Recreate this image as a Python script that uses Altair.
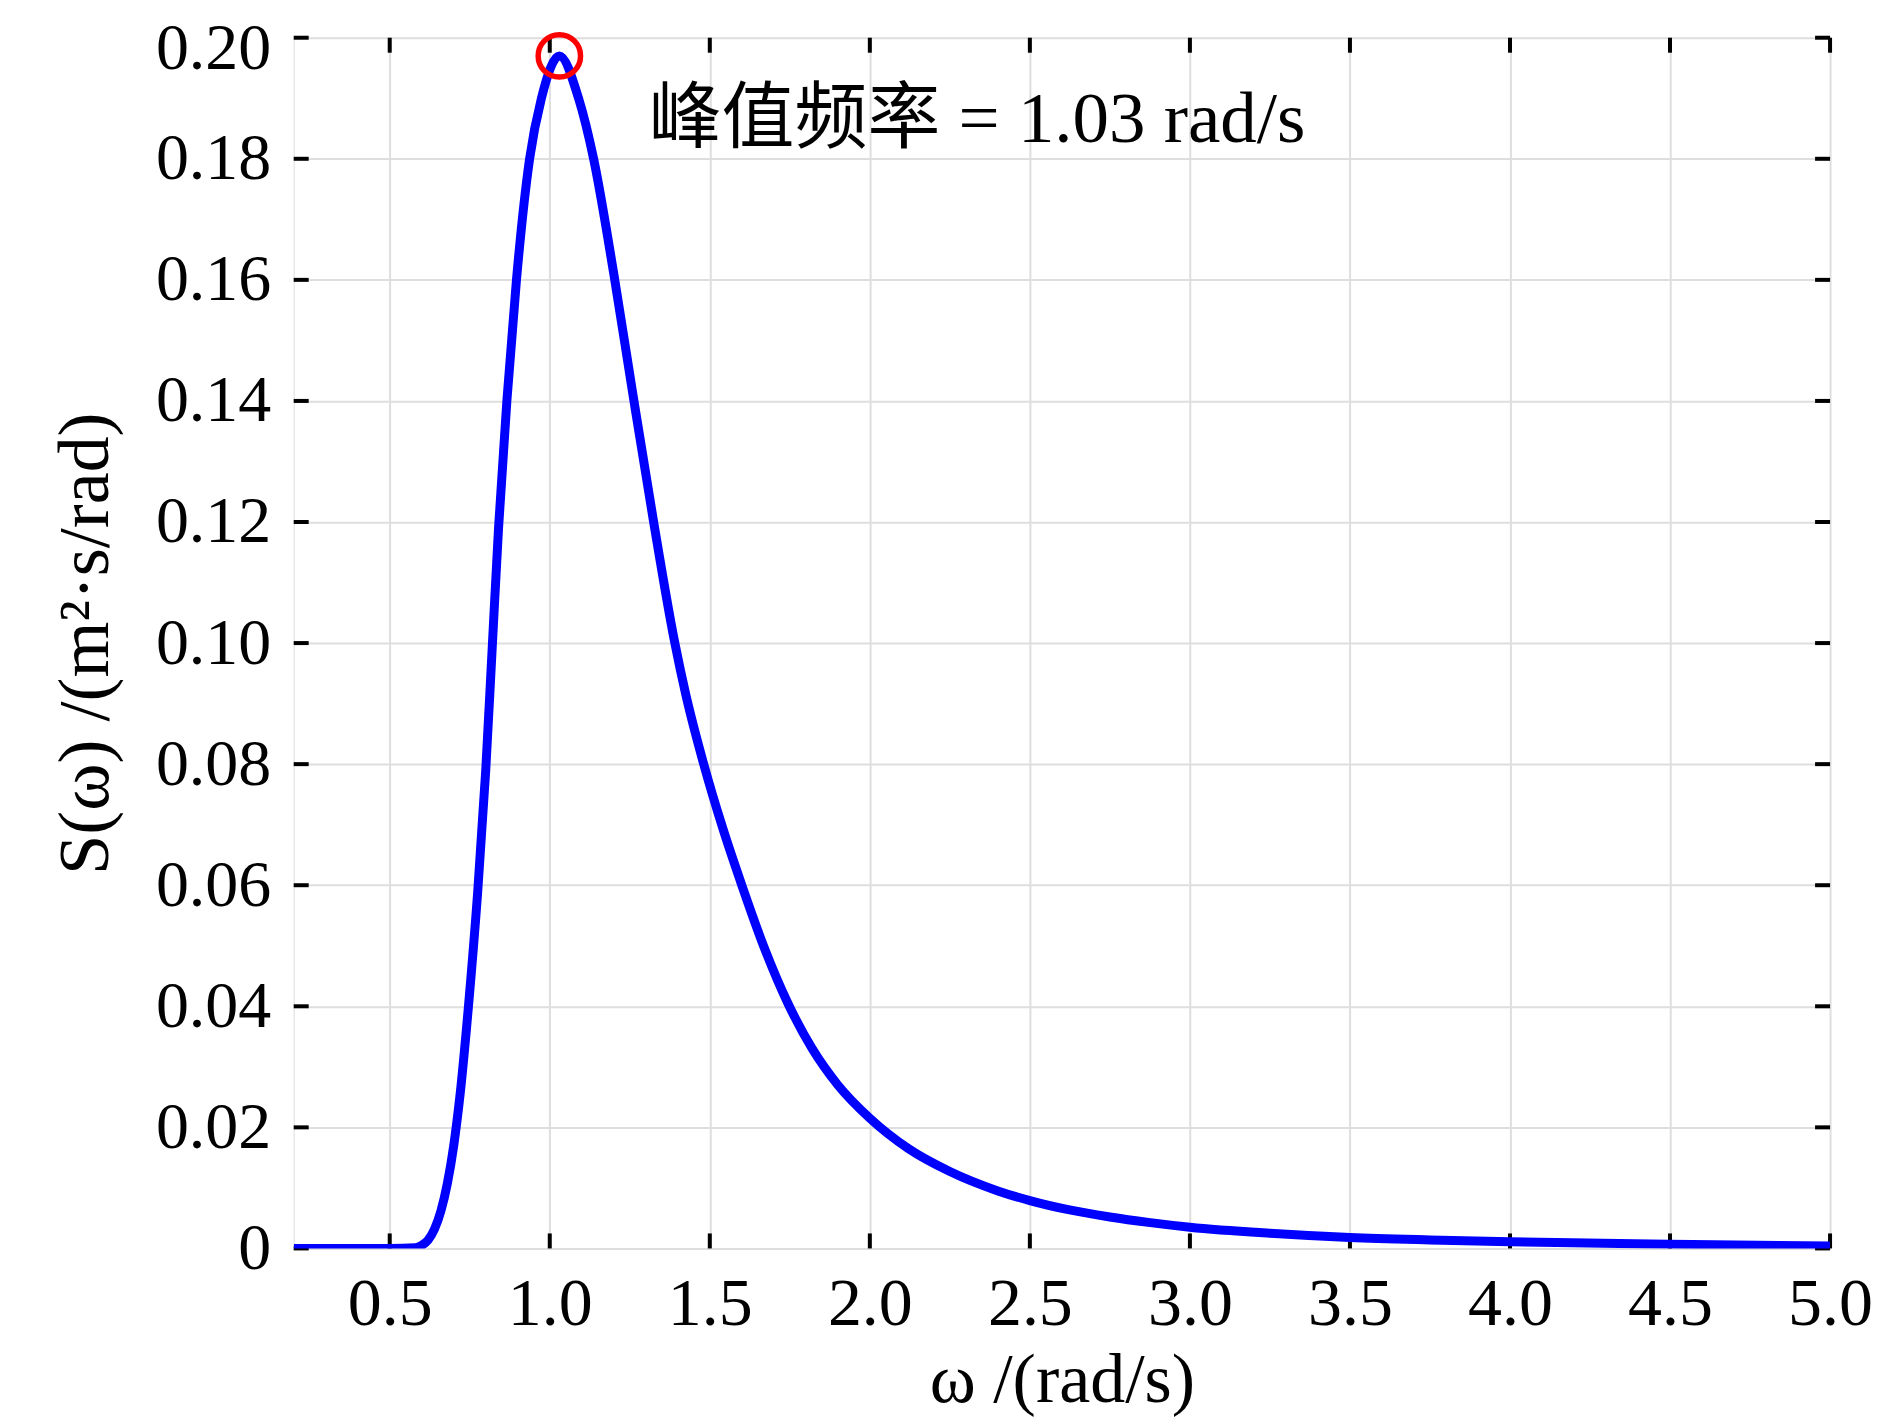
import altair as alt
import pandas as pd

# ---- data ----
omega = [0.20, 0.50, 0.58, 0.60, 0.62, 0.64, 0.66, 0.68, 0.70, 0.72, 0.746,
         0.775, 0.80, 0.82, 0.84, 0.866, 0.896, 0.937, 0.974, 1.03, 1.09,
         1.137, 1.20, 1.26, 1.323, 1.389, 1.425, 1.481, 1.54, 1.60, 1.67,
         1.744, 1.82, 1.90, 2.00, 2.12, 2.25, 2.40, 2.50, 2.62, 2.75, 2.87,
         3.00, 3.25, 3.50, 3.75, 4.00, 4.50, 5.00]
spectrum = [0, 0, 0.0001, 0.0005, 0.0014, 0.0032, 0.0062, 0.0107, 0.0170,
            0.0255, 0.040, 0.059, 0.079, 0.099, 0.119, 0.140, 0.160, 0.180,
            0.190, 0.197, 0.190, 0.180, 0.161, 0.141, 0.1205, 0.1005, 0.0915,
            0.080, 0.0695, 0.060, 0.0497, 0.0405, 0.033, 0.027, 0.0215, 0.0165,
            0.0127, 0.0095, 0.0079, 0.0064, 0.0052, 0.0043, 0.0035, 0.0025,
            0.0018, 0.0014, 0.0011, 0.0007, 0.0004]

peak_omega = [1.03]
peak_value = [0.197]

x_ticks = [0.5, 1.0, 1.5, 2.0, 2.5, 3.0, 3.5, 4.0, 4.5, 5.0]
y_ticks = [0, 0.02, 0.04, 0.06, 0.08, 0.10, 0.12, 0.14, 0.16, 0.18, 0.20]

note_text = ["峰值频率 = 1.03 rad/s"]
note_x = [2.335]
note_y = [0.1864]

x_title = "ω /(rad/s)"
y_title = "S(ω)  /(m²·s/rad)"

W, H = 1538, 1212
LATIN = "Liberation Serif"
FONT = "Liberation Serif, Noto Sans CJK SC"

curve = pd.DataFrame({"w": omega, "S": spectrum})
peak = pd.DataFrame({"w": peak_omega, "S": peak_value})
xt = pd.DataFrame({"w": x_ticks})
yt = pd.DataFrame({"S": y_ticks})
note = pd.DataFrame({"t": note_text, "w": note_x, "S": note_y})

xscale = alt.Scale(domain=[0.2, 5.0], nice=False, zero=False)
yscale = alt.Scale(domain=[0, 0.2], nice=False, zero=False)

xaxis = alt.Axis(values=x_ticks, format=".1f", ticks=False, domain=False,
                 grid=True, gridColor="#dedede", gridWidth=2,
                 labelFont=LATIN, labelFontSize=68, labelColor="black",
                 labelPadding=22, labelFlush=False, labelOverlap=False,
                 title=x_title, titleFont=LATIN,
                 titleFontSize=70, titleFontWeight="normal", titleColor="black",
                 titlePadding=8)
yaxis = alt.Axis(values=y_ticks, ticks=False, domain=False,
                 labelExpr="datum.value == 0 ? '0' : format(datum.value, '.2f')",
                 labelOffset={"condition": {"test": "datum.value >= 0.199", "value": 11},
                              "value": 0},
                 grid=True, gridColor="#dedede", gridWidth=2,
                 labelFont=LATIN, labelFontSize=66, labelColor="black",
                 labelPadding=23, labelFlush=False, labelOverlap=False,
                 title=y_title, titleFont=LATIN,
                 titleFontSize=72, titleFontWeight="normal", titleColor="black",
                 titlePadding=33)

base_line = alt.Chart(curve).mark_line(
    color="#0000ff", strokeWidth=9, interpolate="monotone", clip=True
).encode(
    x=alt.X("w:Q", scale=xscale, axis=xaxis),
    y=alt.Y("S:Q", scale=yscale, axis=yaxis),
)

tick_len = 15
bottom_ticks = alt.Chart(xt).mark_rule(color="black", strokeWidth=4).encode(
    x=alt.X("w:Q", scale=xscale), y=alt.value(H), y2=alt.value(H - tick_len))
top_ticks = alt.Chart(xt).mark_rule(color="black", strokeWidth=4).encode(
    x=alt.X("w:Q", scale=xscale), y=alt.value(0), y2=alt.value(tick_len))
left_ticks = alt.Chart(yt).mark_rule(color="black", strokeWidth=4).encode(
    y=alt.Y("S:Q", scale=yscale), x=alt.value(0), x2=alt.value(tick_len))
right_ticks = alt.Chart(yt).mark_rule(color="black", strokeWidth=4).encode(
    y=alt.Y("S:Q", scale=yscale), x=alt.value(W), x2=alt.value(W - tick_len))

peak_mark = alt.Chart(peak).mark_point(
    shape="circle", filled=False, color="#ff0000", strokeWidth=5.5, size=1800,
    opacity=1
).encode(x=alt.X("w:Q", scale=xscale), y=alt.Y("S:Q", scale=yscale))

note_mark = alt.Chart(note).mark_text(
    font=FONT, fontSize=73, color="black", align="center", baseline="middle"
).encode(x=alt.X("w:Q", scale=xscale), y=alt.Y("S:Q", scale=yscale), text="t:N")

chart = alt.layer(
    bottom_ticks, top_ticks, left_ticks, right_ticks, base_line, peak_mark, note_mark
).properties(
    width=W, height=H,
    autosize=alt.AutoSizeParams(type="none"),
    padding={"left": 286, "top": 29, "right": 52, "bottom": 170},
).configure_view(
    stroke="black", strokeWidth=3.5
).configure(background="white")

chart.save("out.html", embed_options={"renderer": "svg", "actions": False})
